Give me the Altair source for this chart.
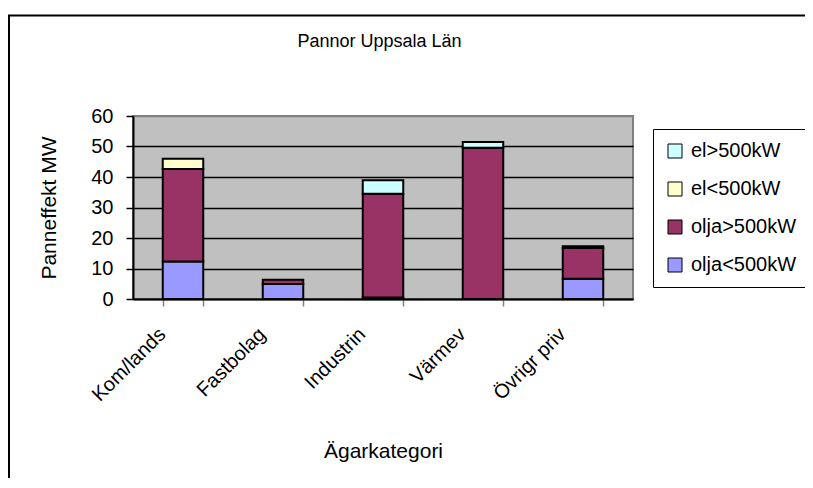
import altair as alt
import pandas as pd

# ---- data ----
categories = ["Kom/lands", "Fastbolag", "Industrin", "Värmev", "Övrigr priv"]
series = ["el>500kW", "el<500kW", "olja>500kW", "olja<500kW"]
colors = ["#CCFFFF", "#FFFFCC", "#993366", "#9999FF"]

olja_lt500 = [12.3, 4.9, 0.5, 0.0, 6.65]
olja_gt500 = [30.35, 1.4, 34.0, 49.6, 10.05]
el_lt500 = [3.3, 0.0, 0.0, 0.0, 0.6]
el_gt500 = [0.0, 0.0, 4.45, 1.9, 0.0]

y_ticks = [0, 10, 20, 30, 40, 50, 60]
title_text = "Pannor Uppsala Län"
x_title = "Ägarkategori"
y_title = "Panneffekt MW"

FONT = "Liberation Sans"

values_by_series = {
    "olja<500kW": olja_lt500,
    "olja>500kW": olja_gt500,
    "el<500kW": el_lt500,
    "el>500kW": el_gt500,
}
stack_order = ["olja<500kW", "olja>500kW", "el<500kW", "el>500kW"]

rows = []
for s in stack_order:
    for c, v in zip(categories, values_by_series[s]):
        if v > 0:
            rows.append({"Kategori": c, "Serie": s, "MW": v, "ord": stack_order.index(s)})
df = pd.DataFrame(rows)

bars = alt.Chart(df).mark_bar(stroke="black", strokeWidth=2).encode(
    x=alt.X(
        "Kategori:N",
        sort=categories,
        scale=alt.Scale(paddingInner=0.595, paddingOuter=0.2975),
        axis=alt.Axis(
            title=x_title,
            labelAngle=-45,
            labelAlign="right",
            labelBaseline="middle",
            labelPadding=25,
            labelOffset=-21,
            labelOverlap=False,
            labelBound=False,
            labelFontSize=20,
            tickBand="extent",
            tickColor="#808080",
            tickSize=7,
            tickWidth=1.5,
            domainColor="black",
            domainWidth=2,
            grid=False,
            titleX=250,
            titleY=152,
            titleFontSize=21,
            titleBaseline="middle",
            titleAlign="center",
        ),
    ),
    y=alt.Y(
        "MW:Q",
        stack="zero",
        scale=alt.Scale(domain=[0, 60], nice=False),
        axis=alt.Axis(
            title=y_title,
            values=y_ticks,
            grid=True,
            gridColor={"condition": {"test": "datum.value == 60", "value": "#808080"}, "value": "black"},
            gridWidth=1.5,
            domainColor="black",
            domainWidth=2,
            tickColor="black",
            tickSize=7,
            tickWidth=1.5,
            labelPadding=13,
            labelFontSize=20,
            titleFontSize=21,
            titleX=-84,
            titleY=91.5,
            titleAngle=270,
            titleAlign="center",
            titleBaseline="middle",
        ),
    ),
    color=alt.Color(
        "Serie:N",
        scale=alt.Scale(domain=series, range=colors),
        legend=alt.Legend(
            title=None,
            orient="none",
            legendX=520,
            legendY=13,
            strokeColor="black",
            fillColor="white",
            padding=12,
            labelFont=FONT,
            labelFontSize=20,
            labelColor="black",
            labelOffset=6,
            labelLimit=300,
            symbolType="square",
            symbolSize=196,
            symbolStrokeColor="black",
            symbolStrokeWidth=1,
            symbolOpacity=1,
            rowPadding=18,
        ),
    ),
    order=alt.Order("ord:Q", sort="ascending"),
)

title = alt.Chart(pd.DataFrame({"t": [title_text]})).mark_text(
    font=FONT, fontSize=18, color="black", align="center", baseline="middle"
).encode(text="t:N", x=alt.value(246.5), y=alt.value(-74))

border = alt.Chart(pd.DataFrame({"b": [1]})).mark_rect(
    fillOpacity=0, stroke="black", strokeWidth=2
).encode(x=alt.value(-124), x2=alt.value(720), y=alt.value(-100.5), y2=alt.value(420))

chart = alt.layer(border, bars, title).properties(
    width=500,
    height=183,
    padding={"left": 125, "top": 108, "right": 172, "bottom": 179},
    autosize=alt.AutoSizeParams(type="none"),
    background="white",
).configure_view(
    fill="#C0C0C0", stroke="#808080", strokeWidth=2
).configure_axis(
    labelFont=FONT,
    titleFont=FONT,
    labelColor="black",
    titleColor="black",
    titleFontWeight="normal",
)

chart.save("out.html", embed_options={"renderer": "svg", "actions": False})
